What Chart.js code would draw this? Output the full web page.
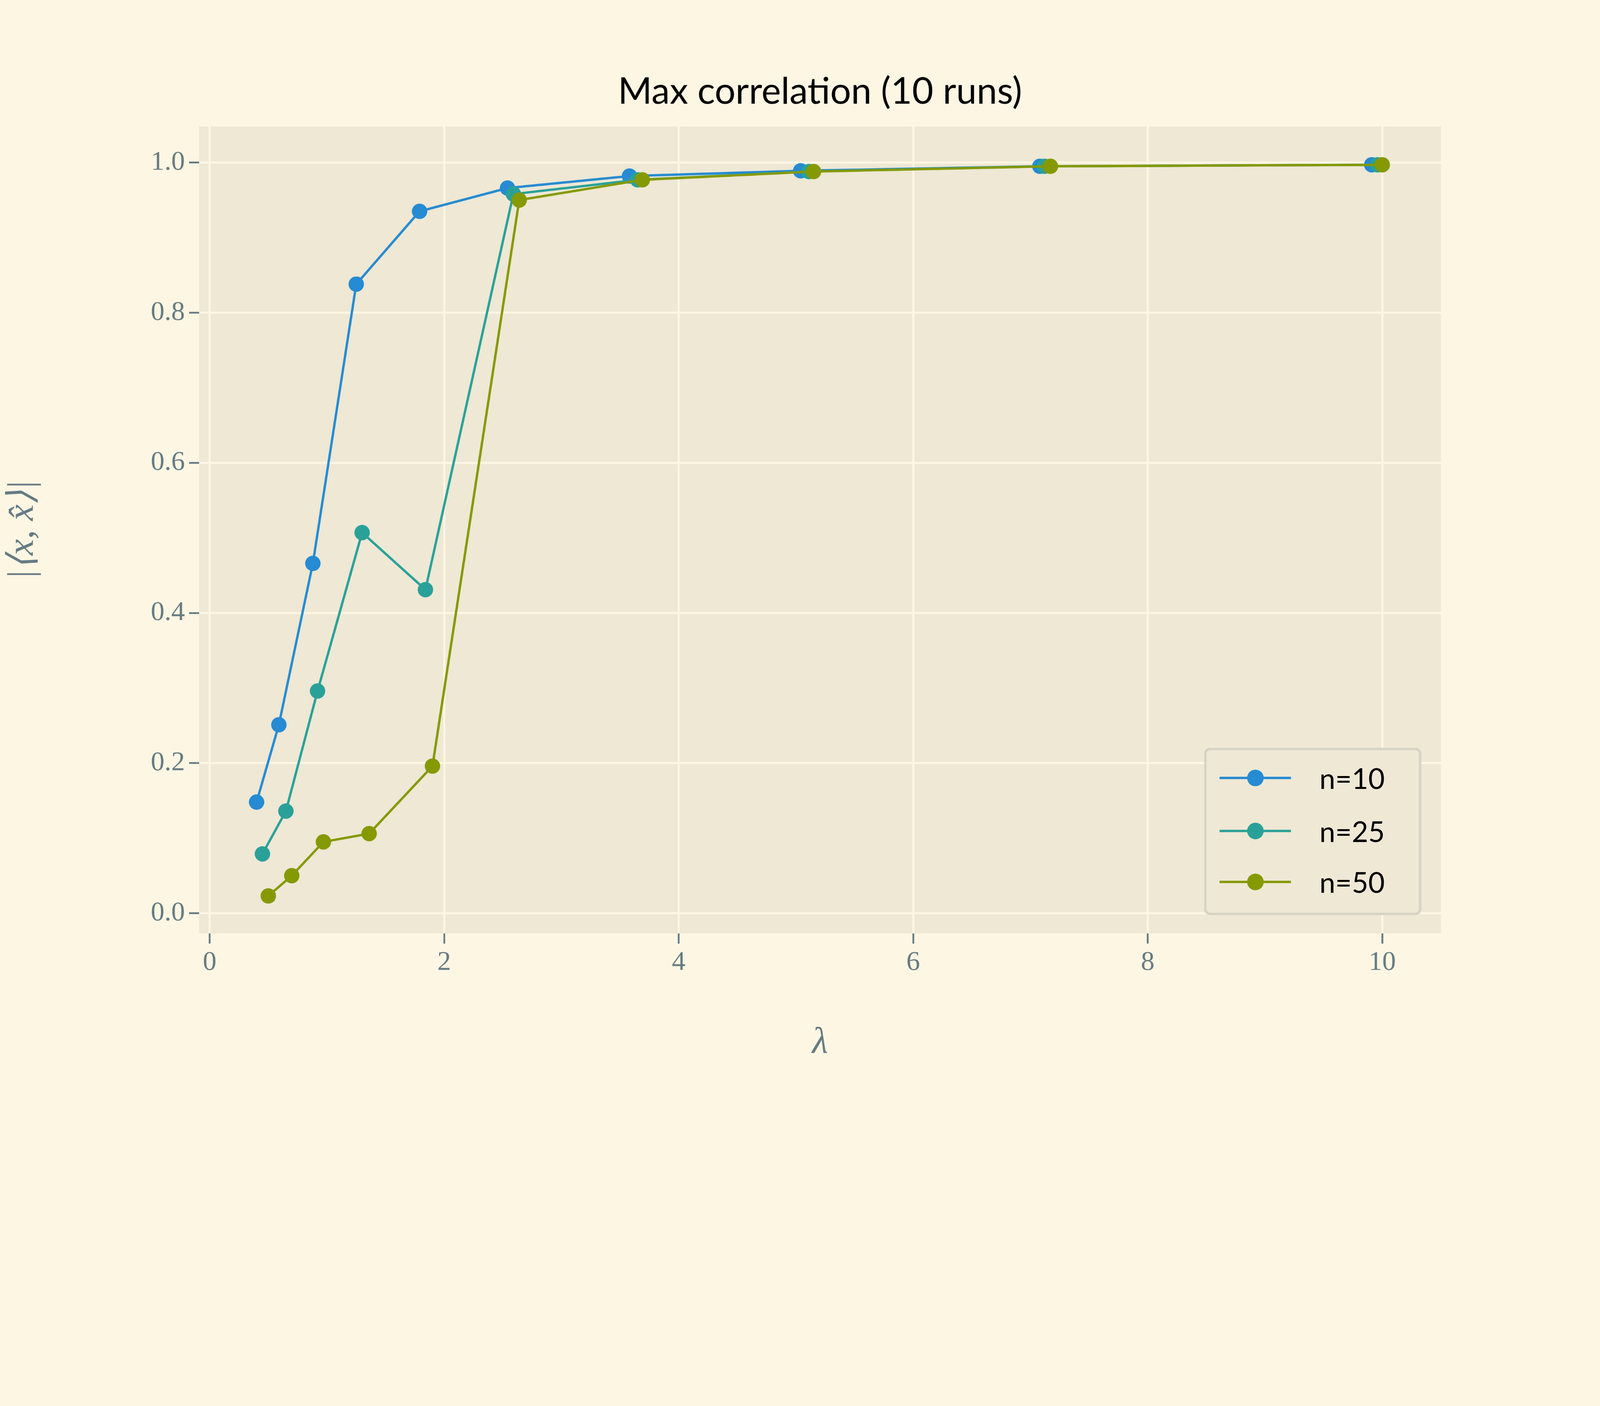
<!DOCTYPE html>
<html>
<head>
<meta charset="utf-8">
<script src="https://cdn.jsdelivr.net/npm/chart.js@4"></script>
<style>
  html, body { margin: 0; background: #fdf6e3; overflow: hidden; }
  #wrap { position: relative; width: 5400px; height: 3600px; transform-origin: 0 0; }
  .legend { position: absolute; left: 4064px; top: 2524px; width: 733px; height: 565px;
    box-sizing: border-box; border: 8px solid #d6d2c4; border-radius: 20px; background: #eee8d5; }
  .item { position: absolute; left: 0; height: 100px; width: 100%; }
  .item .ln { position: absolute; left: 44px; width: 241px; height: 8px; top: 46px; }
  .item .dot { position: absolute; left: 137px; top: 22px; width: 56px; height: 56px; border-radius: 50%; }
  .item span { position: absolute; left: 381px; top: 0; font: 96px Lato, sans-serif; line-height: 100px; color: #000; }
</style>
</head>
<body>
<div id="wrap">
<canvas id="c" width="5400" height="3600"></canvas>
<div class="legend" id="legend"></div>
</div>
<script>
const seriesLabels = ['n=10', 'n=25', 'n=50'];
const seriesColors = ['#268bd2', '#2aa198', '#859900'];
const lambda10 = [0.40, 0.59, 0.88, 1.25, 1.79, 2.54, 3.58, 5.04, 7.08, 9.91];
const corr10   = [0.148, 0.251, 0.466, 0.838, 0.935, 0.966, 0.982, 0.989, 0.995, 0.997];
const lambda25 = [0.45, 0.65, 0.92, 1.30, 1.84, 2.59, 3.65, 5.11, 7.12, 9.96];
const corr25   = [0.079, 0.136, 0.296, 0.507, 0.431, 0.958, 0.977, 0.988, 0.995, 0.997];
const lambda50 = [0.50, 0.70, 0.97, 1.36, 1.90, 2.64, 3.69, 5.15, 7.17, 10.0];
const corr50   = [0.023, 0.050, 0.095, 0.106, 0.196, 0.950, 0.977, 0.988, 0.995, 0.997];
const xTicks = [0, 2, 4, 6, 8, 10];
const yTicks = [0.0, 0.2, 0.4, 0.6, 0.8, 1.0];

const xs = [lambda10, lambda25, lambda50];
const ys = [corr10, corr25, corr50];

// fit the 5400x3600 drawing into whatever viewport we get
const wrap = document.getElementById('wrap');
const fit = Math.min(window.innerWidth / 5400, window.innerHeight / 3600);
wrap.style.transform = 'scale(' + fit + ')';

const datasets = seriesLabels.map((label, i) => ({
  label: label,
  data: xs[i].map((x, j) => ({ x: x, y: ys[i][j] })),
  borderColor: seriesColors[i],
  backgroundColor: seriesColors[i],
  borderWidth: 8,
  pointRadius: 26,
  pointHoverRadius: 26,
  pointBorderWidth: 0,
  tension: 0,
  order: seriesLabels.length - 1 - i, // later series drawn on top
}));

// legend box inside the plot (bottom right)
const leg = document.getElementById('legend');
const legTops = [44, 223, 395];
seriesLabels.forEach((label, i) => {
  const d = document.createElement('div');
  d.className = 'item';
  d.style.top = legTops[i] + 'px';
  d.innerHTML = '<div class="ln" style="background:' + seriesColors[i] + '"></div>' +
    '<div class="dot" style="background:' + seriesColors[i] + '"></div><span>' + label + '</span>';
  leg.appendChild(d);
});

const bgPlugin = {
  id: 'bg',
  beforeDraw(chart) {
    const { ctx, chartArea: a } = chart;
    ctx.save();
    ctx.fillStyle = '#fdf6e3';
    ctx.fillRect(0, 0, chart.width, chart.height);
    ctx.fillStyle = '#eee8d5';
    ctx.fillRect(a.left, a.top, a.right - a.left, a.bottom - a.top);
    ctx.restore();
  },
  afterDraw(chart) {
    const { ctx, chartArea: a } = chart;
    ctx.save();
    ctx.fillStyle = '#000';
    ctx.font = '124px Lato, sans-serif';
    ctx.textAlign = 'center';
    ctx.textBaseline = 'middle';
    ctx.fillText('Max correlation (10 runs)', (a.left + a.right) / 2, 310);
    ctx.restore();
  }
};

const tickFont = { family: '"Liberation Serif", serif', size: 92 };
const gridOpts = { color: '#fdf6e3', lineWidth: 7, tickColor: '#657b83', tickLength: 34, tickWidth: 6 };

new Chart(document.getElementById('c'), {
  type: 'line',
  data: { datasets: datasets },
  plugins: [bgPlugin],
  options: {
    responsive: false,
    devicePixelRatio: 1,
    animation: false,
    layout: { padding: { top: 427, right: 537, left: 0, bottom: 0 } },
    plugins: { legend: { display: false }, title: { display: false }, tooltip: { enabled: false } },
    scales: {
      x: {
        type: 'linear', min: -0.09, max: 10.5,
        afterBuildTicks: (s) => { s.ticks = xTicks.map(v => ({ value: v })); },
        afterFit: (s) => { s.height = 449; },
        grid: gridOpts,
        border: { display: false },
        ticks: { color: '#657b83', font: tickFont, padding: 10 },
        title: { display: true, text: 'λ', color: '#657b83',
          font: { family: '"Liberation Serif", serif', size: 124, style: 'italic' }, padding: { top: 20 } }
      },
      y: {
        type: 'linear', min: -0.027, max: 1.048,
        afterBuildTicks: (s) => { s.ticks = yTicks.map(v => ({ value: v })); },
        afterFit: (s) => { s.width = 672; },
        grid: gridOpts,
        border: { display: false },
        ticks: { color: '#657b83', font: tickFont, padding: 14, callback: (v) => v.toFixed(1) },
        title: { display: true, text: '|⟨x, x̂⟩|', color: '#657b83',
          font: { family: '"Liberation Serif", serif', size: 124, style: 'italic' }, padding: { bottom: 20 } }
      }
    }
  }
});
</script>
</body>
</html>
